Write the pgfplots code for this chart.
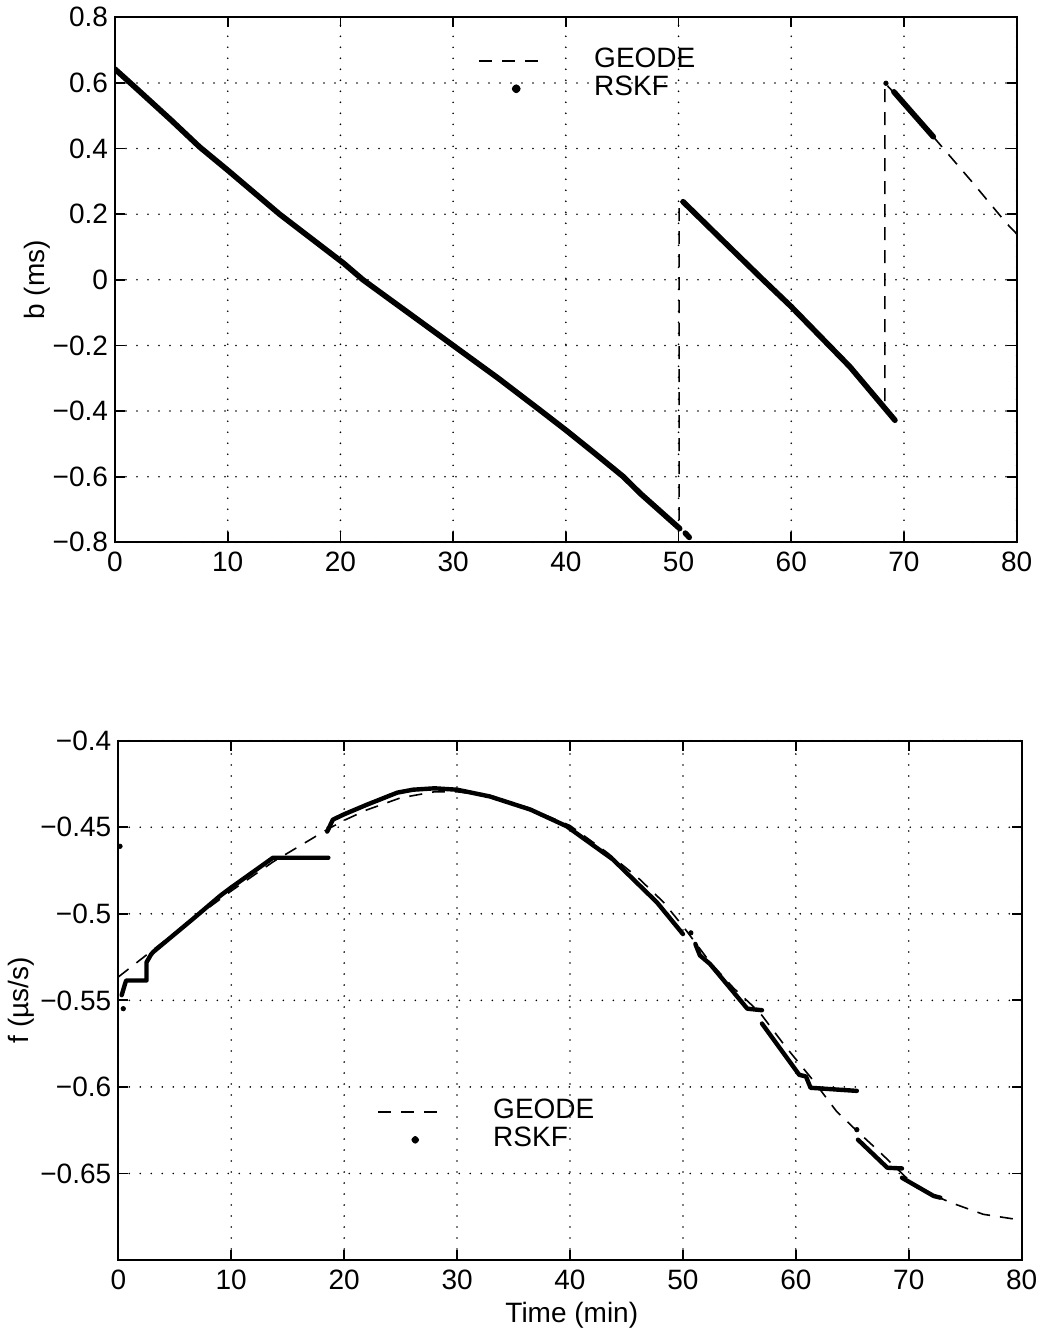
\documentclass[border=0pt]{standalone}
\usepackage{pgfplots}
\pgfplotsset{compat=1.18}
\usepackage{fontspec}
\setmainfont{Liberation Sans}
\newcommand{\fs}{\fontsize{14pt}{16.8pt}\selectfont}
\pgfplotsset{
  mystyle/.style={
    scale only axis,
    anchor=south west,
    xmin=0, xmax=80,
    xtick={0,10,20,30,40,50,60,70,80},
    xticklabels={0,10,20,30,40,50,60,70,80},
    grid=major,
    major grid style={black, line width=0.9pt, line cap=round, dash pattern=on 0pt off 5.5pt},
    tick align=inside,
    major tick length=5pt,
    tick style={black, line width=0.9pt},
    axis line style={line width=1pt},
    tick label style={font=\fs},
    label style={font=\fs},
    xticklabel style={yshift=-1.5pt},
    legend cell align=left,
    legend style={draw=none, fill=none, inner sep=0pt, font=\fs, row sep=0pt,
      nodes={inner sep=0pt, text height=10.5pt, text depth=3.5pt}},
    unbounded coords=jump,
  },
  geode/.style={black, line width=0.8pt, dash pattern=on 6.5pt off 5pt},
  rskf/.style={black, line cap=round, line join=round},
}
\begin{document}
\begin{tikzpicture}
\useasboundingbox (0pt,0pt) rectangle (518.5pt,-666pt);
% ---------------- top axis ----------------
\begin{axis}[mystyle,
  at={(57.5pt,-271.15pt)},
  width=450.85pt, height=262.5pt,
  ymin=-0.8, ymax=0.8,
  ytick={-0.8,-0.6,-0.4,-0.2,0,0.2,0.4,0.6,0.8},
  yticklabels={−0.8,−0.6,−0.4,−0.2,0,0.2,0.4,0.6,0.8},
  ylabel={b (ms)},
  ylabel style={at={(axis description cs:-0.0865,0.5)}, anchor=center},
  legend style={at={(axis description cs:0.4026,0.9446)}, anchor=north west},
]
\addplot[geode, legend image code/.code={\draw[black, line width=0.8pt, dash pattern=on 6.5pt off 5pt] (0pt,0pt) -- (31pt,0pt); \path[draw=none,fill=none] (0pt,0pt) -- (57.5pt,0pt);}] coordinates {
(0,0.642) (2,0.58) (5,0.486) (7.5,0.405) (10,0.334) (14.6,0.20) (20.3,0.05) (22,0.0) (26,-0.10) (30,-0.2) (34,-0.30) (37.7,-0.397) (40,-0.458) (42.5,-0.527) (45.1,-0.60) (46.6,-0.651) (50.05,-0.757) (50.05,0.243) (54,0.117) (57.5,0.0) (60,-0.082) (62.5,-0.17) (65.2,-0.265) (68.3,-0.393) (68.3,0.60) (70.5,0.518) (72.6,0.436) (76,0.30) (79.1,0.172) (80,0.14)
};
\addlegendentry{GEODE}
\addplot[rskf, line width=2.8pt, legend image code/.code={\fill[black] (18.5pt,0pt) circle (0.8pt); \path[draw=none,fill=none] (0pt,0pt) -- (57.5pt,0pt);}] coordinates {
(0,0.642) (2,0.58) (5,0.486) (7.5,0.405) (10,0.334) (14.6,0.20) (20.3,0.05) (22,0.0) (26,-0.10) (30,-0.2) (34,-0.30) (37.7,-0.397) (40,-0.458) (42.5,-0.527) (45.1,-0.60) (46.6,-0.651) (50.1,-0.758)
(50.3,nan)
(50.6,-0.772) (50.95,-0.785)
(51,nan)
(50.4,0.238) (54,0.117) (57.5,0.0) (60,-0.082) (62.5,-0.17) (65.2,-0.265) (69.2,-0.428)
(69.2,nan)
(69.1,0.573) (70.5,0.518) (72.6,0.436)
};
\addlegendentry{RSKF}
\addplot[only marks, mark=*, mark size=1.1pt, black, forget plot] coordinates {(68.4,0.599)};
\end{axis}
% ---------------- bottom axis ----------------
\begin{axis}[mystyle,
  at={(59.15pt,-630pt)},
  width=451.7pt, height=259.65pt,
  ymin=-0.7, ymax=-0.4,
  ytick={-0.65,-0.6,-0.55,-0.5,-0.45,-0.4},
  yticklabels={−0.65,−0.6,−0.55,−0.5,−0.45,−0.4},
  ylabel={f (µs/s)},
  ylabel style={at={(axis description cs:-0.1077,0.5)}, anchor=center},
  xlabel={Time (min)},
  xlabel style={at={(axis description cs:0.502,-0.106)}, anchor=center},
  legend style={at={(axis description cs:0.2864,0.3131)}, anchor=north west},
]
\addplot[geode, legend image code/.code={\draw[black, line width=0.8pt, dash pattern=on 6.5pt off 5pt] (0pt,0pt) -- (31pt,0pt); \path[draw=none,fill=none] (0pt,0pt) -- (57.5pt,0pt);}] coordinates {
(0,-0.5365) (5,-0.511) (10,-0.4868) (13.7,-0.470) (18.5,-0.4513) (20,-0.446) (22,-0.440) (25,-0.433) (28,-0.4295) (30,-0.4295) (33,-0.432) (36,-0.438) (40,-0.449) (43.3,-0.4647) (46,-0.479) (48.3,-0.4934) (50.1,-0.508) (52.4,-0.528) (54.5,-0.543) (56.8,-0.557) (59,-0.576) (61.5,-0.596) (63.6,-0.6141) (65.5,-0.626) (67.2,-0.6362) (70.7,-0.6582) (73.7,-0.6668) (76.6,-0.6736) (80,-0.677)
};
\addlegendentry{GEODE}
\addplot[rskf, line width=2.2pt, legend image code/.code={\fill[black] (18.5pt,0pt) circle (0.8pt); \path[draw=none,fill=none] (0pt,0pt) -- (57.5pt,0pt);}] coordinates {
(0.3,-0.547) (0.6,-0.5404) (0.7,-0.5385) (2.5,-0.5385) (2.5,-0.528) (2.9,-0.5235) (3.1,-0.522) (6.6,-0.503) (9.0,-0.4897) (10.0,-0.4848) (13.7,-0.4676) (18.6,-0.4676)
(18.6,nan)
(18.5,-0.4525) (19.0,-0.4456) (20,-0.4425) (22,-0.437) (24.7,-0.430) (26.1,-0.4283) (28,-0.4275) (30,-0.4283) (32.9,-0.4322) (36.5,-0.4398) (39.7,-0.4494) (43.8,-0.4686) (47.7,-0.4934) (50.0,-0.5117)
(50.2,nan)
(51.1,-0.5174) (51.5,-0.524) (52.4,-0.529) (55.7,-0.5548) (57.0,-0.5557)
(57.0,nan)
(57.0,-0.5634) (60.3,-0.593) (60.9,-0.594) (61.3,-0.6005) (65.4,-0.6023)
(65.4,nan)
(65.5,-0.6305) (68.1,-0.6467) (69.4,-0.6471)
(69.4,nan)
(69.4,-0.6525) (72.2,-0.663) (72.8,-0.664)
};
\addlegendentry{RSKF}
\addplot[only marks, mark=*, mark size=1.1pt, black, forget plot] coordinates {(0.15,-0.461) (0.44,-0.5548) (50.7,-0.511) (65.4,-0.6247)};
\end{axis}
\end{tikzpicture}
\end{document}
